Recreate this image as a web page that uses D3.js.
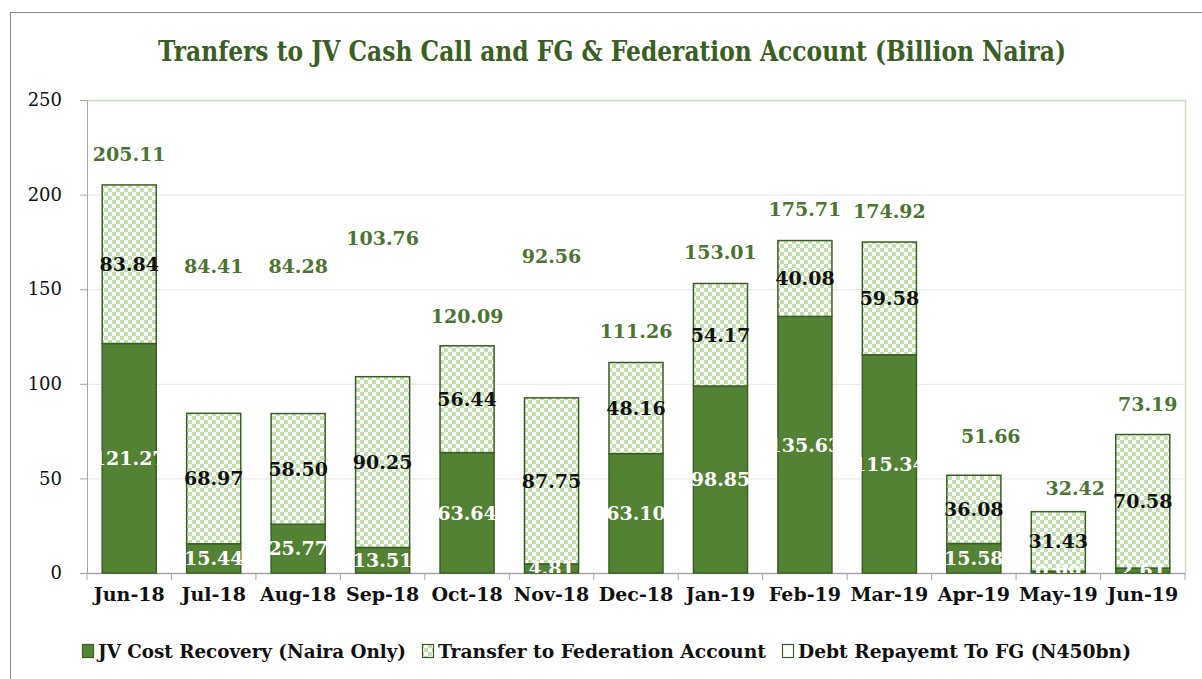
<!DOCTYPE html>
<html>
<head>
<meta charset="utf-8">
<script src="https://cdn.jsdelivr.net/npm/d3@7"></script>
<style>
  body { margin: 0; background: #fff; }
  svg { display: block; font-family: "DejaVu Serif", serif; }
</style>
</head>
<body>
<script>
const months = ["Jun-18", "Jul-18", "Aug-18", "Sep-18", "Oct-18", "Nov-18", "Dec-18",
  "Jan-19", "Feb-19", "Mar-19", "Apr-19", "May-19", "Jun-19"];
const jvCost = [121.27, 15.44, 25.77, 13.51, 63.64, 4.81, 63.10, 98.85, 135.63, 115.34, 15.58, 0.99, 2.61];
const transfer = [83.84, 68.97, 58.50, 90.25, 56.44, 87.75, 48.16, 54.17, 40.08, 59.58, 36.08, 31.43, 70.58];
const debtRepay = [0, 0, 0, 0, 0, 0, 0, 0, 0, 0, 0, 0, 0];
const totals = [205.11, 84.41, 84.28, 103.76, 120.09, 92.56, 111.26, 153.01, 175.71, 174.92, 51.66, 32.42, 73.19];
const yTicks = [0, 50, 100, 150, 200, 250];
const legendNames = ["JV Cost Recovery (Naira Only)", "Transfer to Federation Account", "Debt Repayemt To FG (N450bn)"];

// hand-placed total labels in the original (px above bar top / px right of bar centre)
const totalDy = [31, 147, 147, 139, 30, 142, 31, 31, 31, 31, 39, 24, 30];
const totalDx = [0, 0, 0, 0, 0, 0, 0, 0, 0, 0, 17, 17, 5];

const width = 1202, height = 679;
const pLeft = 87, pRight = 1185, pTop = 100, pBottom = 573;
const dark = "#548235", edge = "#3b5e26", light = "#c3dfae";

const svg = d3.select("body").append("svg")
  .attr("width", width).attr("height", height);

const defs = svg.append("defs");
const pat = defs.append("pattern")
  .attr("id", "checker").attr("patternUnits", "userSpaceOnUse")
  .attr("width", 8).attr("height", 8);
pat.append("rect").attr("width", 8).attr("height", 8).attr("fill", "#fff");
pat.append("rect").attr("width", 4).attr("height", 4).attr("fill", light);
pat.append("rect").attr("x", 4).attr("y", 4).attr("width", 4).attr("height", 4).attr("fill", light);
defs.append("clipPath").attr("id", "plotclip")
  .append("rect").attr("x", pLeft).attr("y", pTop).attr("width", pRight - pLeft).attr("height", pBottom - pTop);

// chart frame
svg.append("rect")
  .attr("x", 10.5).attr("y", 12.5).attr("width", 1250).attr("height", 700)
  .attr("fill", "none").attr("stroke", "#8c8c8c").attr("stroke-width", 1);

svg.append("text")
  .attr("x", 612).attr("y", 61)
  .attr("text-anchor", "middle")
  .attr("font-size", 27).attr("font-weight", "bold")
  .attr("fill", "#3a5e24")
  .attr("textLength", 908).attr("lengthAdjust", "spacingAndGlyphs")
  .text("Tranfers to JV Cash Call and FG & Federation Account (Billion Naira)");

const x = d3.scaleBand().domain(months).range([pLeft, pRight]).padding(0);
const y = d3.scaleLinear().domain([0, 250]).range([pBottom, pTop]);
const bw = x.bandwidth() * 0.64;
const bx = m => x(m) + (x.bandwidth() - bw) / 2;

// grid
svg.append("g").selectAll("line")
  .data(yTicks.filter(t => t > 0 && t < 250)).join("line")
  .attr("x1", pLeft).attr("x2", pRight)
  .attr("y1", d => y(d) + 0.5).attr("y2", d => y(d) + 0.5)
  .attr("stroke", "#e6e6e6");
// plot border (top & right)
svg.append("path")
  .attr("d", `M${pLeft},${y(250) + 0.5}H${pRight + 0.5}V${pBottom}`)
  .attr("fill", "none").attr("stroke", "#c9e2b9").attr("stroke-width", 1.5);

// y axis
const yAxis = svg.append("g")
  .attr("transform", `translate(${pLeft},0)`)
  .call(d3.axisLeft(y).tickValues(yTicks).tickSize(7).tickPadding(18));
yAxis.select(".domain").attr("stroke", "#a6a6a6");
yAxis.selectAll(".tick line").attr("stroke", "#a6a6a6");
yAxis.selectAll("text").attr("font-size", 18).attr("fill", "#111")
  .attr("font-family", "DejaVu Serif");

// x axis
const xAxis = svg.append("g")
  .attr("transform", `translate(0,${pBottom})`)
  .call(d3.axisBottom(x).tickSize(0).tickPadding(15));
xAxis.select(".domain").attr("stroke", "#a6a6a6").attr("stroke-width", 1.5);
xAxis.selectAll("text").attr("font-size", 19).attr("font-weight", "bold")
  .attr("fill", "#111").attr("font-family", "DejaVu Serif");
svg.append("g").selectAll("line")
  .data(months.concat(["end"])).join("line")
  .attr("x1", (d, i) => pLeft + i * x.step()).attr("x2", (d, i) => pLeft + i * x.step())
  .attr("y1", pBottom).attr("y2", pBottom + 7)
  .attr("stroke", "#a6a6a6");

// stacked bars
const rows = months.map((m, i) => ({ m, jv: jvCost[i], tr: transfer[i], db: debtRepay[i], total: totals[i], i }));
const bars = svg.append("g");
bars.selectAll("rect.jv").data(rows).join("rect").attr("class", "jv")
  .attr("x", d => bx(d.m)).attr("width", bw)
  .attr("y", d => y(d.jv)).attr("height", d => y(0) - y(d.jv))
  .attr("fill", dark).attr("stroke", edge).attr("stroke-width", 1.5);
bars.selectAll("rect.tr").data(rows).join("rect").attr("class", "tr")
  .attr("x", d => bx(d.m)).attr("width", bw)
  .attr("y", d => y(d.jv + d.tr)).attr("height", d => y(d.jv) - y(d.jv + d.tr))
  .attr("fill", "url(#checker)").attr("stroke", edge).attr("stroke-width", 1.5);

// segment labels
const lab = svg.append("g").attr("clip-path", "url(#plotclip)")
  .attr("font-size", 19).attr("font-weight", "bold").attr("text-anchor", "middle");
lab.selectAll("text.jv").data(rows).join("text").attr("class", "jv")
  .attr("x", d => x(d.m) + x.bandwidth() / 2)
  .attr("y", d => (y(0) + y(d.jv)) / 2).attr("dy", "0.36em")
  .attr("fill", "#fff")
  .text(d => d.jv.toFixed(2));
lab.selectAll("text.tr").data(rows).join("text").attr("class", "tr")
  .attr("x", d => x(d.m) + x.bandwidth() / 2)
  .attr("y", d => (y(d.jv) + y(d.jv + d.tr)) / 2).attr("dy", "0.36em")
  .attr("fill", "#111")
  .text(d => d.tr.toFixed(2));
lab.selectAll("text.tot").data(rows).join("text").attr("class", "tot")
  .attr("x", d => x(d.m) + x.bandwidth() / 2 + totalDx[d.i])
  .attr("y", d => y(d.jv + d.tr + d.db) - totalDy[d.i]).attr("dy", "0.36em")
  .attr("fill", "#4b7530")
  .text(d => d.total.toFixed(2));

// legend
const legend = svg.append("g").attr("font-size", 19).attr("font-weight", "bold").attr("fill", "#111");
const legX = [82, 422, 782], legTextW = [308, 328, 333];
const legFill = [dark, "url(#checker)", "#fff"];
legendNames.forEach((name, i) => {
  legend.append("rect")
    .attr("x", legX[i] + 0.5).attr("y", 644.5).attr("width", 11).attr("height", 13)
    .attr("fill", legFill[i]).attr("stroke", edge).attr("stroke-width", 1.2);
  legend.append("text")
    .attr("x", legX[i] + 16).attr("y", 651).attr("dy", "0.36em")
    .attr("textLength", legTextW[i]).attr("lengthAdjust", "spacingAndGlyphs")
    .text(name);
});
</script>
</body>
</html>
